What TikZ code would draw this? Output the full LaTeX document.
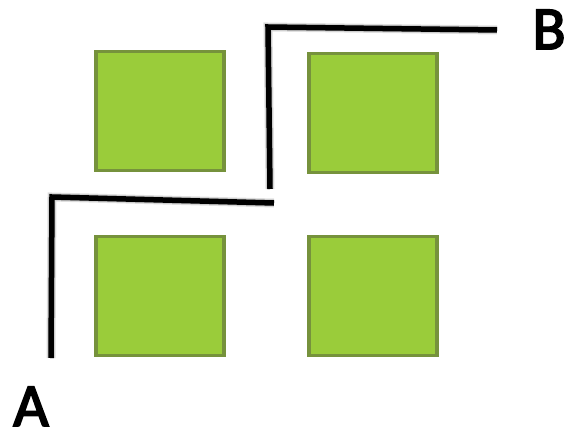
\documentclass[tikz,border=0pt]{standalone}
\usepackage{fontspec}
\setmainfont{Carlito}
\newfontfamily\tagfont{Carlito}[FakeBold=3]
\definecolor{cellfill}{RGB}{154,204,58}
\definecolor{celledge}{RGB}{118,146,60}
\tikzset{
  cell/.style={draw=celledge,line width=3.5pt,fill=cellfill,minimum width=128pt,minimum height=119pt,inner sep=0pt},
  route/.style={line width=5.5pt,black,line join=miter},
  routeshade/.style={line width=#1,black,opacity=.12,line join=miter},
  tag/.style={font=\tagfont\fontsize{61}{61}\selectfont,inner sep=0pt,anchor=base}
}
\begin{document}
\begin{tikzpicture}[x=1pt,y=-1pt]
\useasboundingbox (0,0) rectangle (569,433);
\node[cell] (c1) at (160,111) {};
\node[cell] (c2) at (373,113) {};
\node[cell] (c3) at (160,296) {};
\node[cell] (c4) at (373,296) {};
\coordinate (a0) at (51,358);
\coordinate (a1) at (52,197);
\coordinate (a2) at (274,203);
\coordinate (b0) at (270,189);
\coordinate (b1) at (268,27);
\coordinate (b2) at (497,30);
% soft shadow
\begin{scope}[shift={(4,4)}]
\foreach \w in {9pt,7pt,5pt} {
  \draw[routeshade=\w] (a0) -- (a1) -- (a2);
  \draw[routeshade=\w] (b0) -- (b1) -- (b2);
}
\end{scope}
\draw[route] (a0) -- (a1) -- (a2);
\draw[route] (b0) -- (b1) -- (b2);
\node[tag] (la) at (31,426) {A};
\node[tag] (lb) at (549,49) {B};
\end{tikzpicture}
\end{document}
